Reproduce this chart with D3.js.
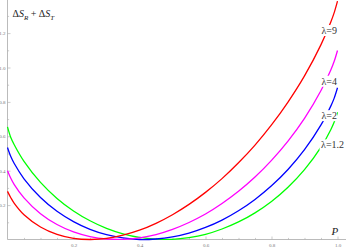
<!DOCTYPE html>
<html>
<head>
<meta charset="utf-8">
<script src="https://cdn.jsdelivr.net/npm/d3@7"></script>
<style>
  body { margin: 0; background: #fff; }
  svg { display: block; }
  .tick text { font-family: "Liberation Serif", serif; font-size: 5px; fill: #777; }
</style>
</head>
<body>
<svg id="chart" width="346" height="249"></svg>
<script>
const pVals = [0, 0.01, 0.02, 0.05, 0.1, 0.15, 0.2, 0.25, 0.3, 0.35, 0.4, 0.45, 0.5,
               0.55, 0.6, 0.65, 0.7, 0.75, 0.8, 0.85, 0.9, 0.95, 0.98, 0.99, 1]
const lam9  = [0.28, 0.243, 0.212, 0.144, 0.073, 0.030, 0.007, 0.000, 0.006, 0.025, 0.054, 0.094, 0.144,
               0.204, 0.274, 0.354, 0.446, 0.549, 0.666, 0.799, 0.951, 1.133, 1.266, 1.319, 1.386]
const lam4  = [0.40, 0.356, 0.321, 0.242, 0.150, 0.087, 0.044, 0.017, 0.003, 0.001, 0.010, 0.029, 0.059,
               0.099, 0.148, 0.209, 0.280, 0.363, 0.460, 0.572, 0.704, 0.866, 0.987, 1.036, 1.099]
const lam2  = [0.535, 0.482, 0.443, 0.353, 0.244, 0.164, 0.104, 0.059, 0.028, 0.009, 0.000, 0.003, 0.015,
               0.037, 0.070, 0.113, 0.167, 0.233, 0.312, 0.407, 0.522, 0.666, 0.777, 0.822, 0.882]
const lam12 = [0.655, 0.593, 0.552, 0.454, 0.332, 0.239, 0.166, 0.109, 0.065, 0.033, 0.012, 0.002, 0.001,
               0.011, 0.030, 0.061, 0.102, 0.155, 0.221, 0.304, 0.406, 0.537, 0.640, 0.683, 0.740]

const seriesNames = ["λ=1.2", "λ=2", "λ=4", "λ=9"]
const seriesColors = ["#00ff00", "#0000ff", "#ff00ff", "#ff0000"]
const seriesData = [lam12, lam2, lam4, lam9]
// where each label sits (P, value at label centre)
const labelPos = [[0.985, 0.55], [0.975, 0.72], [0.975, 0.92], [0.975, 1.215]]

const xTicks = [0.2, 0.4, 0.6, 0.8, 1.0]
const yTicks = [0.2, 0.4, 0.6, 0.8, 1.0, 1.2]

const svg = d3.select("#chart")
const x = d3.scaleLinear().domain([0, 1]).range([7.5, 337.5])
const y = d3.scaleLinear().domain([0, 1]).range([239.5, 67.5])

// axes, mathematica style (ticks inside)
const xMinor = d3.range(0.05, 1.03, 0.05).filter(v => Math.abs(v * 5 - Math.round(v * 5)) > 1e-6)
const yMinor = [0.1, 0.3, 0.5, 0.7, 0.9, 1.1, 1.3]

svg.append("g")
  .attr("class", "xax")
  .attr("transform", "translate(0,239.5)")
  .call(d3.axisBottom(x).tickValues(xMinor).tickSize(-1.6).tickFormat(""))
svg.append("g")
  .attr("class", "xax")
  .attr("transform", "translate(0,239.5)")
  .call(d3.axisBottom(x).tickValues(xTicks).tickSize(-3).tickPadding(3).tickFormat(d3.format(".1f")))
svg.append("g")
  .attr("transform", "translate(7.5,0)")
  .call(d3.axisLeft(y).tickValues(yMinor).tickSize(-1.6).tickFormat(""))
svg.append("g")
  .attr("transform", "translate(7.5,0)")
  .call(d3.axisLeft(y).tickValues(yTicks).tickSize(-3).tickPadding(2).tickFormat(d3.format(".1f")))

svg.selectAll(".domain").remove()
svg.selectAll(".tick line").attr("stroke", "#aaa").attr("stroke-width", 0.6)
svg.selectAll(".xax .tick text").attr("y", 7).attr("dy", null)

svg.append("line").attr("x1", 7.5).attr("x2", 346).attr("y1", 239.5).attr("y2", 239.5)
  .attr("stroke", "#aaa").attr("stroke-width", 0.8)
svg.append("line").attr("x1", 7.5).attr("x2", 7.5).attr("y1", 0).attr("y2", 239.5)
  .attr("stroke", "#aaa").attr("stroke-width", 0.8)

// curves
const line = d3.line()
  .x((d, i) => x(pVals[i]))
  .y(d => y(d))
  .curve(d3.curveCatmullRom.alpha(0.5))

svg.selectAll("path.curve")
  .data(seriesData)
  .enter().append("path")
  .attr("class", "curve")
  .attr("d", line)
  .attr("fill", "none")
  .attr("stroke", (d, i) => seriesColors[i])
  .attr("stroke-width", 1.3)

// curve labels with white boxes
const lab = svg.selectAll("g.lab")
  .data(seriesNames)
  .enter().append("g")
  .attr("class", "lab")
  .attr("transform", (d, i) => "translate(" + x(labelPos[i][0]) + "," + y(labelPos[i][1]) + ")")
lab.append("rect")
  .attr("x", (d) => -d.length * 2.6)
  .attr("y", -5.5)
  .attr("width", (d) => d.length * 5.2)
  .attr("height", 11)
  .attr("fill", "#fff")
lab.append("text")
  .attr("text-anchor", "middle")
  .attr("dy", "0.35em")
  .attr("font-family", "Liberation Serif, serif")
  .attr("font-size", 10)
  .attr("fill", "#333")
  .text(d => d)

// axis titles
const yt = svg.append("text")
  .attr("x", 12.5).attr("y", 17)
  .attr("font-family", "Liberation Serif, serif")
  .attr("font-size", 10)
  .attr("fill", "#222")
yt.append("tspan").text("Δ")
yt.append("tspan").attr("font-style", "italic").text("S")
yt.append("tspan").attr("font-style", "italic").attr("font-size", 7).attr("dy", 2.5).text("R")
yt.append("tspan").attr("dy", -2.5).text(" + Δ")
yt.append("tspan").attr("font-style", "italic").text("S")
yt.append("tspan").attr("font-style", "italic").attr("font-size", 7).attr("dy", 2.5).text("T")

svg.append("text")
  .attr("x", 331.5).attr("y", 235)
  .attr("font-family", "Liberation Serif, serif")
  .attr("font-style", "italic")
  .attr("font-size", 11)
  .attr("fill", "#222")
  .text("P")
</script>
</body>
</html>
